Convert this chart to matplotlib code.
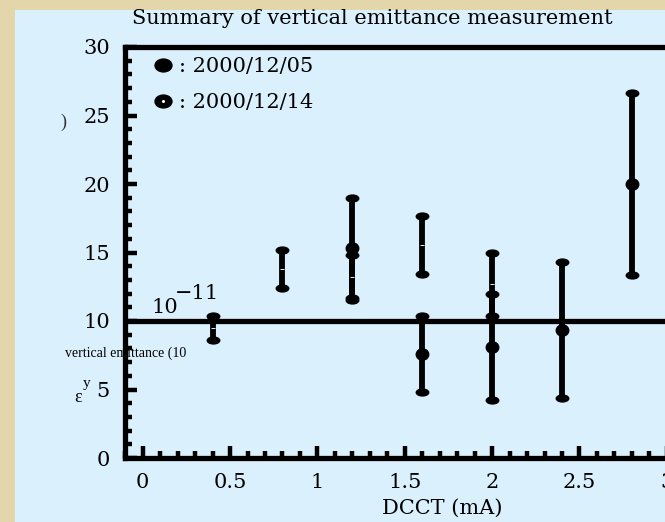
import numpy as np
import matplotlib
matplotlib.use('Agg')
from matplotlib import pyplot as plt
from matplotlib.path import Path
from matplotlib.transforms import Affine2D
from matplotlib.patches import Rectangle
from matplotlib.lines import Line2D
from matplotlib.ticker import MultipleLocator

# 2000/12/05 (filled markers)
x_a = [1.2, 1.6, 2.0, 2.4, 2.8]
y_a = [15.3, 7.6, 8.1, 9.35, 20.0]
err_a = [3.65, 2.75, 3.85, 4.95, 6.65]

# 2000/12/14 (small markers)
x_b = [0.4, 0.8, 1.2, 1.6, 2.0]
y_b = [9.5, 13.8, 13.2, 15.55, 12.7]
err_b = [0.9, 1.4, 1.65, 2.1, 2.3]

ref_level = 10
labels = [': 2000/12/05', ': 2000/12/14']

blue = '#dbf0fd'
tan = '#e3d6aa'
serif = 'DejaVu Serif'

W, H = 665, 522
fig = plt.figure(figsize=(W / 100, H / 100), dpi=100, facecolor=tan)
fig.patches.append(Rectangle((15 / W, 0), 1, 1 - 10 / H, transform=fig.transFigure,
                             facecolor=blue, edgecolor='none', zorder=-5))

x0, x1 = 125.2, 684.3
ax = fig.add_axes([x0 / W, 64 / H, (x1 - x0) / W, 411 / H])
ax.set_facecolor('none')
ax.set_xlim(-0.1, 3.1)
ax.set_ylim(0, 30)

for s in ['left', 'bottom', 'top']:
    ax.spines[s].set_linewidth(3.8)
ax.spines['right'].set_visible(False)

ax.xaxis.set_major_locator(MultipleLocator(0.5))
ax.xaxis.set_minor_locator(MultipleLocator(0.1))
ax.yaxis.set_major_locator(MultipleLocator(5))
ax.yaxis.set_minor_locator(MultipleLocator(1))
ax.tick_params(which='both', direction='in', top=False, right=False, width=3.2)
ax.tick_params(which='major', length=8.6, pad=11, labelsize=15)
ax.tick_params(which='minor', length=5)
ax.set_xticks([0, 0.5, 1, 1.5, 2, 2.5, 3])
ax.set_xticklabels(['0', '0.5', '1', '1.5', '2', '2.5', '3'])
for t in ax.get_xticklabels() + ax.get_yticklabels():
    t.set_family(serif)

ax.axhline(ref_level, color='black', lw=3.8, zorder=2)

ellipse = Path.unit_circle().transformed(Affine2D().scale(1, 0.55))
dot = Path.unit_circle().transformed(Affine2D().scale(1, 0.9))

for xs, ys, es in [(x_a, y_a, err_a), (x_b, y_b, err_b)]:
    xs = np.array(xs)
    ys = np.array(ys)
    es = np.array(es)
    ax.vlines(xs, ys - es, ys + es, color='black', lw=4.2, zorder=3)
    ax.plot(xs, ys - es, ls='none', marker=ellipse, ms=9, color='black', zorder=4)
    ax.plot(xs, ys + es, ls='none', marker=ellipse, ms=9, color='black', zorder=4)

ax.plot(x_a, y_a, ls='none', marker=dot, ms=9, color='black', zorder=5)
ax.plot(x_b, y_b, ls='none', marker='_', ms=3, mew=0.7, color=blue, zorder=5)

leg_shape = Path.unit_circle().transformed(Affine2D().scale(1, 0.76))
h1 = Line2D([], [], ls='none', marker=leg_shape, ms=12.2, color='black')
h2 = Line2D([], [], ls='none', marker=leg_shape, ms=12.2, color='black')
h2w = Line2D([], [], ls='none', marker='o', ms=2.2, color='white', mew=0)
ax.legend([h1, (h2, h2w)], labels, loc='upper left', bbox_to_anchor=(0.041, 0.985),
          frameon=False, handlelength=1.0, handletextpad=0.3, labelspacing=0.8,
          borderaxespad=0, borderpad=0.2, prop={'family': serif, 'size': 15})

# broken y label pieces, as in the original
ax.text(0.05, 10.3, '10', fontsize=15, family=serif, va='bottom', ha='left')
ax.text(0.185, 11.3, '\u221211', fontsize=15, family=serif, va='bottom', ha='left')
fig.text(65 / W, 1 - 353 / H, 'vertical emittance (10', fontsize=10,
         family='Liberation Serif', va='center', ha='left')
fig.text(74 / W, 1 - 397 / H, '\u03b5', fontsize=13, family='Liberation Serif',
         va='center', ha='left')
fig.text(83 / W, 1 - 384 / H, 'y', fontsize=11, family='Liberation Serif',
         va='center', ha='left')
fig.text(60 / W, 1 - 122 / H, ')', fontsize=13, family='Liberation Serif',
         va='center', ha='left', color='#333333')

ax.set_xlabel('DCCT (mA)', fontsize=15, family=serif, x=0.567, labelpad=5)
fig.text(372 / W, 1 - 19 / H, 'Summary of vertical emittance measurement',
         fontsize=15, family=serif, ha='center', va='center')

fig.savefig('out.png', dpi=100, facecolor=fig.get_facecolor())
plt.close('all')
